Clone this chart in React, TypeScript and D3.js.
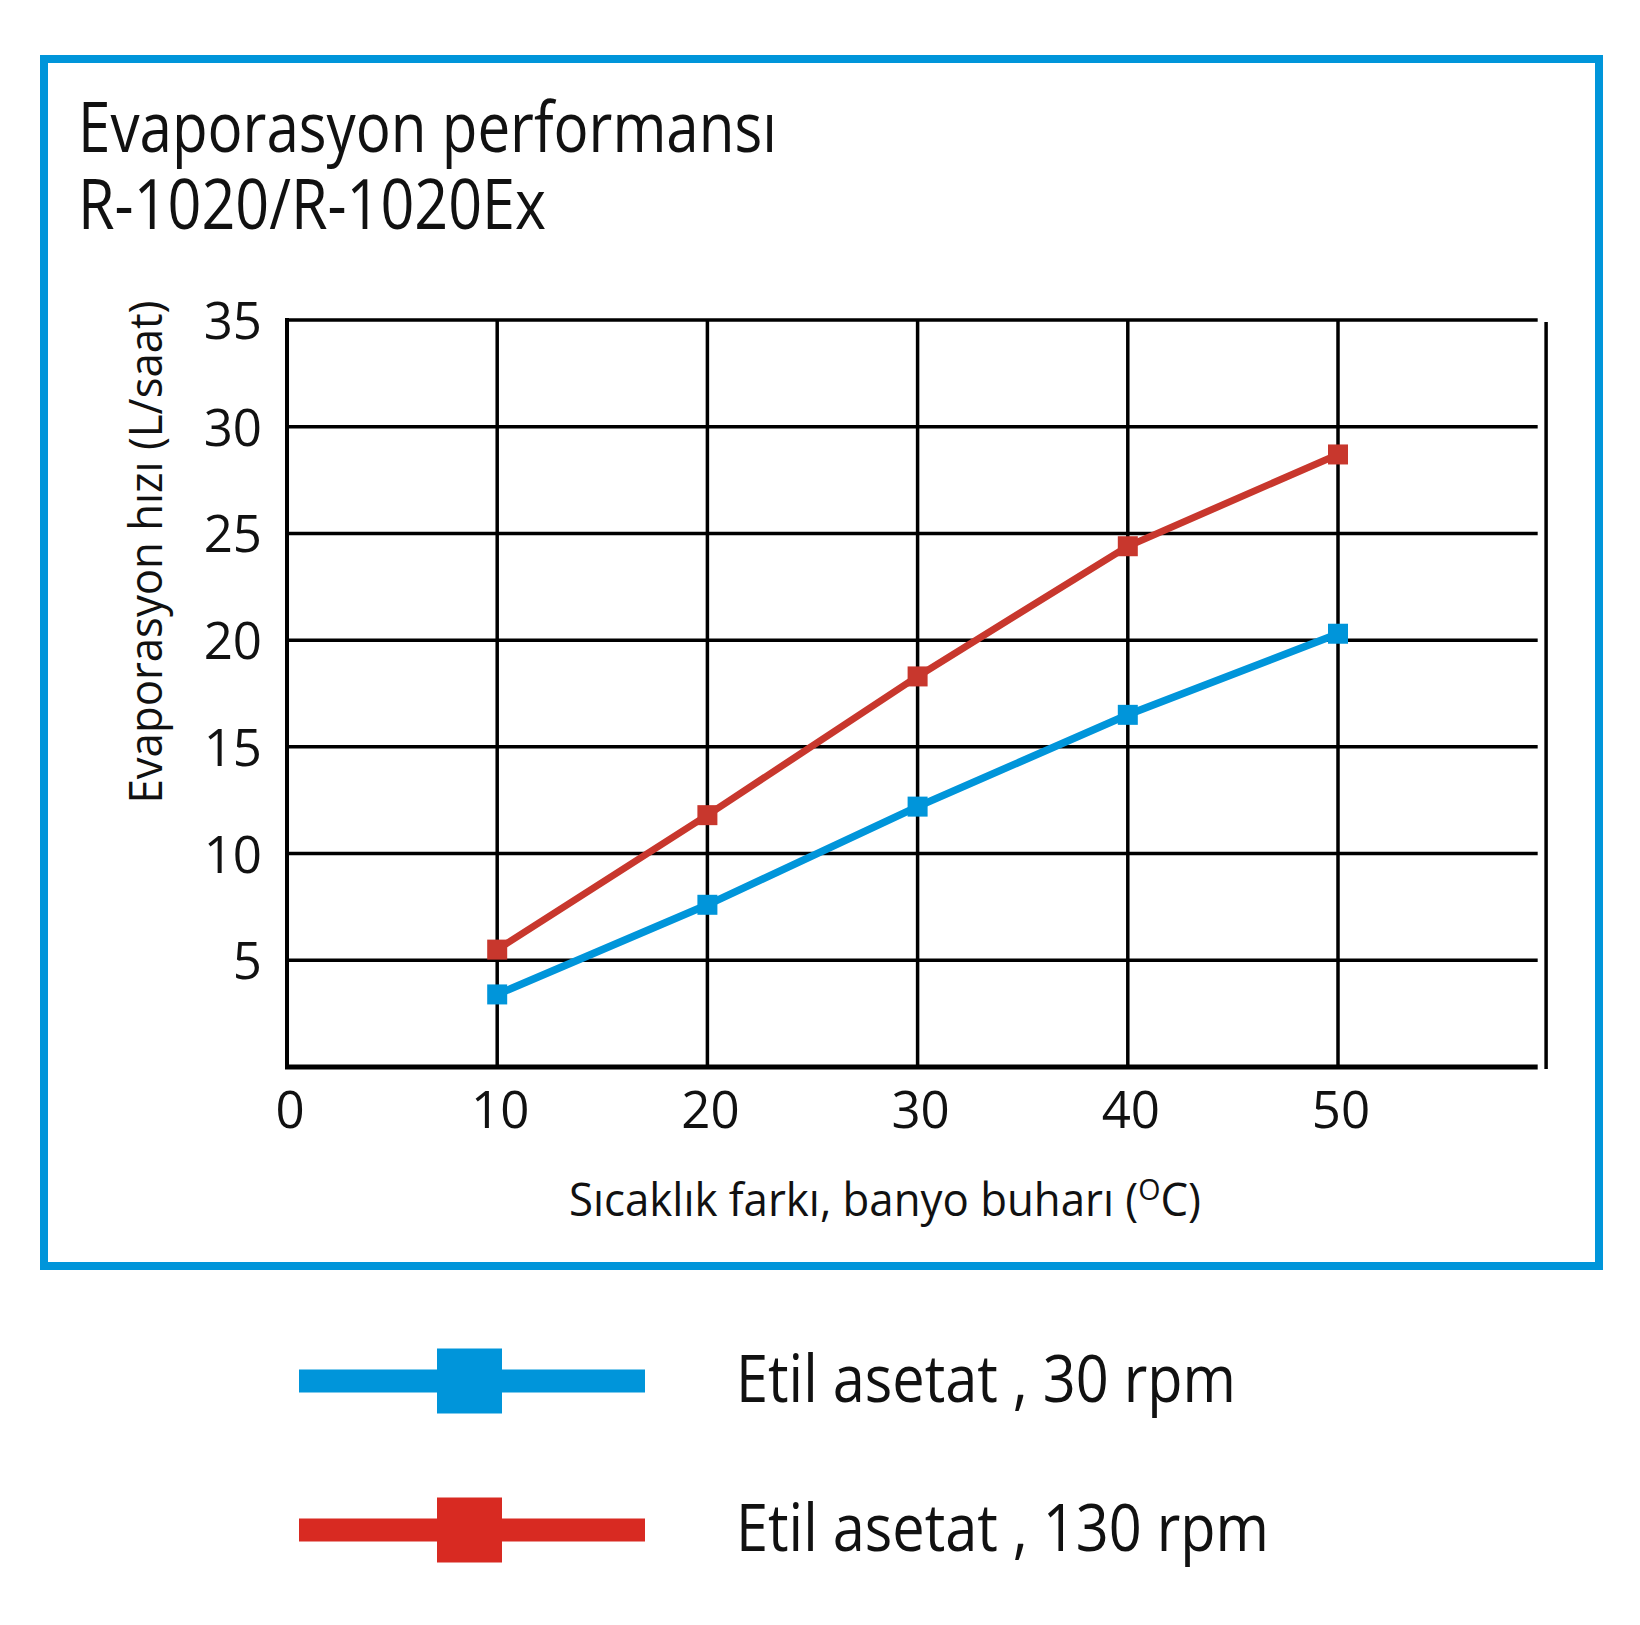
import React from "react";
import * as d3 from "d3";

const temps = [10, 20, 30, 40, 50];
const rpm30 = [3.4, 7.6, 12.2, 16.5, 20.3];
const rpm130 = [5.5, 11.8, 18.3, 24.4, 28.7];
const xTicks = [0, 10, 20, 30, 40, 50];
const yTicks = [5, 10, 15, 20, 25, 30, 35];
const seriesNames = ["Etil asetat , 30 rpm", "Etil asetat , 130 rpm"];

const FONT = "'Open Sans', 'Noto Sans', sans-serif";
const BLUE = "#0095da";
const RED = "#c8372d";
const RED_LEGEND = "#d82a22";

export default function App() {
  const x = d3.scaleLinear().domain([0, 50]).range([287, 1338]);
  const y = d3.scaleLinear().domain([0, 35]).range([1067, 320]);
  const xEnd = x(59.5);
  const xRight = x(59.9);

  const line = d3
    .line<number>()
    .x((_, i) => x(temps[i]))
    .y((d) => y(d));

  const series = [
    { values: rpm30, color: BLUE, legend: BLUE, width: 7.5 },
    { values: rpm130, color: RED, legend: RED_LEGEND, width: 7 },
  ];

  const mk = 20;

  return (
    <svg
      width={1640}
      height={1625}
      style={{ position: "absolute", left: 0, top: 0, background: "#fff" }}
      fontFamily={FONT}
    >
      <rect x={0} y={0} width={1640} height={1625} fill="#fff" />
      {/* frame */}
      <rect x={44} y={59} width={1555} height={1207} fill="none" stroke={BLUE} strokeWidth={8} />

      {/* title */}
      <text x={78} y={152} fontSize={70} textLength={699} lengthAdjust="spacingAndGlyphs" fill="#111">
        Evaporasyon performansı
      </text>
      <text x={78} y={229} fontSize={70} textLength={468} lengthAdjust="spacingAndGlyphs" fill="#111">
        R-1020/R-1020Ex
      </text>

      {/* grid */}
      <g stroke="#000" strokeWidth={3.5}>
        {yTicks.map((t) => (
          <line key={"h" + t} x1={x(0)} x2={xEnd} y1={y(t)} y2={y(t)} />
        ))}
        {temps.map((t) => (
          <line key={"v" + t} x1={x(t)} x2={x(t)} y1={y(35)} y2={y(0)} />
        ))}
        <line x1={xRight} x2={xRight} y1={y(35) + 2} y2={y(0) + 2} />
        <line x1={x(0)} x2={x(0)} y1={y(35) - 2} y2={y(0) + 2} strokeWidth={4} />
        <line x1={x(0) - 2} x2={xEnd} y1={y(0)} y2={y(0)} strokeWidth={5} />
      </g>

      {/* y tick labels */}
      {yTicks.map((t) => (
        <text key={"yl" + t} x={262} y={y(t) + 19} fontSize={51} textAnchor="end" fill="#111">
          {t}
        </text>
      ))}
      {/* x tick labels */}
      {xTicks.map((t) => (
        <text key={"xl" + t} x={x(t) + 3} y={y(0) + 61} fontSize={51} textAnchor="middle" fill="#111">
          {t}
        </text>
      ))}

      {/* axis titles */}
      <text
        transform="translate(162,552) rotate(-90)"
        fontSize={46}
        textAnchor="middle"
        textLength={503}
        lengthAdjust="spacingAndGlyphs"
        fill="#111"
      >
        Evaporasyon hızı (L/saat)
      </text>
      <text x={569} y={1216} fontSize={46} textLength={632} lengthAdjust="spacingAndGlyphs" fill="#111">
        Sıcaklık farkı, banyo buharı (<tspan fontSize={30} dy={-16}>O</tspan>
        <tspan dy={16}>C)</tspan>
      </text>

      {/* series */}
      {series.map((s, si) => (
        <g key={"s" + si}>
          <path d={line(s.values) || ""} fill="none" stroke={s.color} strokeWidth={s.width} />
          {s.values.map((v, i) => (
            <rect
              key={i}
              x={x(temps[i]) - mk / 2}
              y={y(v) - mk / 2}
              width={mk}
              height={mk}
              fill={s.color}
            />
          ))}
        </g>
      ))}

      {/* legend */}
      {series.map((s, si) => {
        const cy = 1381 + si * 149;
        return (
          <g key={"lg" + si}>
            <rect x={299} y={cy - 11.5} width={346} height={23} fill={s.legend} />
            <rect x={437} y={cy - 32.5} width={65} height={65} fill={s.legend} />
            <text
              x={736}
              y={cy + 21}
              fontSize={66}
              textLength={si === 0 ? 500 : 533}
              lengthAdjust="spacingAndGlyphs"
              fill="#111"
            >
              {seriesNames[si]}
            </text>
          </g>
        );
      })}
    </svg>
  );
}
